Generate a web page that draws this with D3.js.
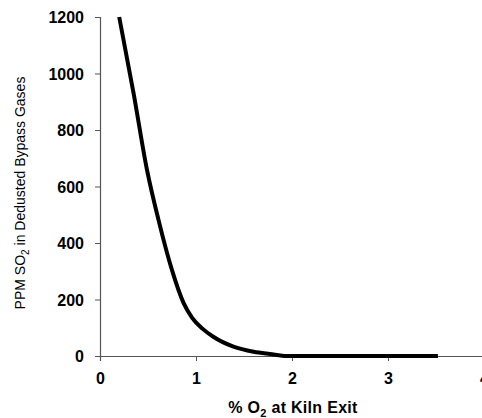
<!DOCTYPE html>
<html>
<head>
<meta charset="utf-8">
<script src="https://d3js.org/d3.v7.min.js"></script>
<style>
  body { margin: 0; background: #fff; }
  svg { font-family: "Liberation Sans", Arial, sans-serif; }
</style>
</head>
<body>
<div id="chart"></div>
<script>
// data
var o2Values = [0.2, 0.35, 0.49, 0.61, 0.75, 0.87, 0.96, 1.07, 1.18, 1.39, 1.6, 1.77, 1.95, 3.52];
var so2Values = [1200, 930, 658, 481, 304, 188, 135, 96, 68, 33, 15, 7, 0, 0];
var xTicks = [0, 1, 2, 3, 4];
var yTicks = [0, 200, 400, 600, 800, 1000, 1200];

var svgWidth = 482;
var svgHeight = 418;

var margin = {
    top: 17,
    right: -2,
    bottom: 62,
    left: 100
};

var width = 384;
var height = svgHeight - margin.top - margin.bottom;

var svg = d3.select('#chart')
    .append('svg')
    .attr('width', svgWidth)
    .attr('height', svgHeight);

var chartGroup = svg.append('g')
    .attr('transform', `translate(${margin.left},${margin.top})`);

var xScale = d3.scaleLinear()
    .domain([0, 4])
    .range([0, width]);

var yScale = d3.scaleLinear()
    .domain([0, 1200])
    .range([height, 0]);

// axes
var bottomAxis = d3.axisBottom(xScale)
    .tickValues(xTicks)
    .tickSize(5)
    .tickPadding(12)
    .tickFormat(d3.format('d'));

var leftAxis = d3.axisLeft(yScale)
    .tickValues(yTicks)
    .tickSize(5)
    .tickPadding(11)
    .tickFormat(d3.format('d'));

var xAxis = chartGroup.append('g')
    .attr('transform', `translate(0, ${height})`)
    .call(bottomAxis);

var yAxis = chartGroup.append('g')
    .call(leftAxis);

[xAxis, yAxis].forEach(function(ax) {
    ax.select('.domain').attr('stroke', '#555').attr('stroke-width', 1.2);
    ax.selectAll('.tick line').attr('stroke', '#555');
    ax.selectAll('text')
        .attr('fill', '#000')
        .attr('font-weight', 'bold')
        .attr('font-family', '"Liberation Sans", Arial, sans-serif');
});
xAxis.selectAll('text').attr('font-size', '16px');
yAxis.selectAll('text').attr('font-size', '16px').attr('dy', '0.36em');

// curve
var points = o2Values.map(function(x, i) { return [x, so2Values[i]]; });

var line = d3.line()
    .x(d => xScale(d[0]))
    .y(d => yScale(d[1]))
    .curve(d3.curveMonotoneX);

chartGroup.append('path')
    .datum(points)
    .attr('d', line)
    .attr('fill', 'none')
    .attr('stroke', '#000')
    .attr('stroke-width', 4)
    .attr('stroke-linejoin', 'round');

// axis titles
var xTitle = svg.append('text')
    .attr('x', 293)
    .attr('y', 413)
    .attr('text-anchor', 'middle')
    .attr('font-size', '16px')
    .attr('font-weight', 'bold')
    .attr('letter-spacing', '0.3px')
    .attr('fill', '#000');
xTitle.append('tspan').text('% O');
xTitle.append('tspan').attr('font-size', '11px').attr('dy', 4).text('2');
xTitle.append('tspan').attr('dy', -4).text(' at Kiln Exit');

var yTitle = svg.append('text')
    .attr('transform', 'translate(25,193) rotate(-90)')
    .attr('text-anchor', 'middle')
    .attr('font-size', '14px')
    .attr('fill', '#000');
yTitle.append('tspan').text('PPM SO');
yTitle.append('tspan').attr('font-size', '10px').attr('dy', 4).text('2');
yTitle.append('tspan').attr('dy', -4).text(' in Dedusted Bypass Gases');
</script>
</body>
</html>
